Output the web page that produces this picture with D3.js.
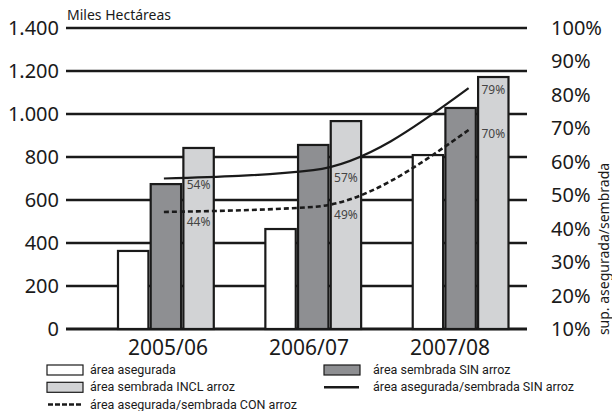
<!DOCTYPE html>
<html>
<head>
<meta charset="utf-8">
<script src="https://cdn.jsdelivr.net/npm/d3@7"></script>
<style>
  body { margin: 0; background: #fff; }
  svg { display: block; font-family: "Noto Sans", sans-serif; }
</style>
</head>
<body>
<div id="chart"></div>
<script>
var width = 612,
    height = 411;

// data
var years = ["2005/06", "2006/07", "2007/08"];
var series = ["asegurada", "sin", "incl"];
var asegurada = [363, 465, 809];
var sembradaSin = [674, 856, 1028];
var sembradaIncl = [842, 967, 1172];
var ratioSin = [55, 57.5, 82];
var ratioCon = [45, 46.5, 69.5];
var ratioSinLabels = ["54%", "57%", "79%"];
var ratioConLabels = ["44%", "49%", "70%"];
var leftTicks = [0, 200, 400, 600, 800, 1000, 1200, 1400];
var rightTicks = [10, 20, 30, 40, 50, 60, 70, 80, 90, 100];

var fills = { asegurada: "#ffffff", sin: "#8e8f92", incl: "#d2d3d5" };

var svg = d3.select("#chart")
    .append("svg")
    .attr("width", width)
    .attr("height", height);

var y = d3.scaleLinear().domain([0, 1400]).range([329, 28]);
var yPct = d3.scaleLinear().domain([10, 100]).range([329, 28]);

var x = d3.scaleBand()
    .domain(years)
    .range([118, 508.5])
    .paddingInner(0.35)
    .paddingOuter(0);

var xSub = d3.scaleBand()
    .domain(series)
    .range([0, x.bandwidth()])
    .paddingInner(0.07);

var xLabel = d3.scalePoint().domain(years).range([168, 450]);

// gridlines
svg.append("g")
    .selectAll("line")
    .data(leftTicks).enter()
    .append("line")
    .attr("x1", 66)
    .attr("x2", 527)
    .attr("y1", function(d) { return y(d); })
    .attr("y2", function(d) { return y(d); })
    .attr("stroke", "#1a1a1a")
    .attr("stroke-width", function(d) { return d == 0 ? 3 : 2.5; });

// left tick labels
svg.append("g")
    .selectAll("text")
    .data(leftTicks).enter()
    .append("text")
    .attr("x", 59)
    .attr("y", function(d) { return y(d) + 7; })
    .attr("text-anchor", "end")
    .style("font-size", "20px")
    .attr("fill", "#1a1a1a")
    .text(function(d) { return d3.format(",")(d).replace(",", "."); });

// right tick labels
svg.append("g")
    .selectAll("text")
    .data(rightTicks).enter()
    .append("text")
    .attr("x", 551)
    .attr("y", function(d) { return yPct(d) + 7; })
    .style("font-size", "20px")
    .attr("fill", "#1a1a1a")
    .text(function(d) { return d + "%"; });

svg.append("text")
    .attr("transform", "translate(609,249) rotate(-90)")
    .attr("text-anchor", "middle")
    .style("font-size", "14px")
    .attr("fill", "#1a1a1a")
    .text("sup. asegurada/sembrada");

svg.append("text")
    .attr("x", 67)
    .attr("y", 20)
    .style("font-size", "14px")
    .attr("fill", "#1a1a1a")
    .text("Miles Hectáreas");

// bars
var rows = years.map(function(yr, i) {
    return { year: yr, asegurada: asegurada[i], sin: sembradaSin[i], incl: sembradaIncl[i] };
});

var groups = svg.append("g")
    .selectAll("g")
    .data(rows).enter()
    .append("g")
    .attr("transform", function(d) { return "translate(" + x(d.year) + ",0)"; });

groups.selectAll("rect")
    .data(function(d) { return series.map(function(s) { return { key: s, value: d[s] }; }); })
    .enter()
    .append("rect")
    .attr("x", function(d) { return xSub(d.key); })
    .attr("width", xSub.bandwidth())
    .attr("y", function(d) { return y(d.value); })
    .attr("height", function(d) { return y(0) - y(d.value); })
    .attr("fill", function(d) { return fills[d.key]; })
    .attr("stroke", "#1a1a1a")
    .attr("stroke-width", 2.2);

// ratio lines
function cx(i) { return x(years[i]) + xSub("sin") + xSub.bandwidth() / 2; }

var ratioLine = d3.line()
    .x(function(d, i) { return cx(i) + (i == 2 ? 8 : i == 0 ? -2 : 0); })
    .y(function(d) { return yPct(d); })
    .curve(d3.curveMonotoneX);

svg.append("path")
    .datum(ratioSin)
    .attr("d", ratioLine)
    .attr("fill", "none")
    .attr("stroke", "#1a1a1a")
    .attr("stroke-width", 2.2);

svg.append("path")
    .datum(ratioCon)
    .attr("d", ratioLine)
    .attr("fill", "none")
    .attr("stroke", "#1a1a1a")
    .attr("stroke-width", 2.6)
    .attr("stroke-dasharray", "5,3");

// percentage labels inside light bars
function lx(i) { return x(years[i]) + xSub("incl") + xSub.bandwidth() / 2; }

svg.append("g")
    .selectAll("text")
    .data(ratioSinLabels).enter()
    .append("text")
    .attr("x", function(d, i) { return lx(i); })
    .attr("y", function(d, i) { return yPct(ratioSin[i]) + (i == 2 ? 6 : i == 0 ? 10 : 12); })
    .attr("text-anchor", "middle")
    .style("font-size", "12px")
    .attr("fill", "#444")
    .text(function(d) { return d; });

svg.append("g")
    .selectAll("text")
    .data(ratioConLabels).enter()
    .append("text")
    .attr("x", function(d, i) { return lx(i); })
    .attr("y", function(d, i) { return yPct(ratioCon[i]) + (i == 2 ? 8 : i == 0 ? 14 : 12); })
    .attr("text-anchor", "middle")
    .style("font-size", "12px")
    .attr("fill", "#444")
    .text(function(d) { return d; });

// x labels
svg.append("g")
    .selectAll("text")
    .data(years).enter()
    .append("text")
    .attr("x", function(d) { return xLabel(d); })
    .attr("y", 355)
    .attr("text-anchor", "middle")
    .style("font-size", "21px")
    .attr("fill", "#1a1a1a")
    .text(function(d) { return d; });

// legend
var legendItems = [
    { label: "área asegurada", type: "box", fill: fills.asegurada, col: 0, row: 0 },
    { label: "área sembrada SIN arroz", type: "box", fill: fills.sin, col: 1, row: 0 },
    { label: "área sembrada INCL arroz", type: "box", fill: fills.incl, col: 0, row: 1 },
    { label: "área asegurada/sembrada SIN arroz", type: "line", col: 1, row: 1 },
    { label: "área asegurada/sembrada CON arroz", type: "dash", col: 0, row: 2 }
];

var legend = svg.append("g")
    .selectAll("g")
    .data(legendItems).enter()
    .append("g")
    .attr("transform", function(d) {
        return "translate(" + (d.col == 0 ? 47 : 324) + "," + (370 + d.row * 17.3) + ")";
    });

legend.filter(function(d) { return d.type == "box"; })
    .append("rect")
    .attr("x", 0)
    .attr("y", -5)
    .attr("width", 36)
    .attr("height", 10)
    .attr("fill", function(d) { return d.fill; })
    .attr("stroke", "#1a1a1a")
    .attr("stroke-width", 1.2);

legend.filter(function(d) { return d.type != "box"; })
    .append("line")
    .attr("x1", function(d) { return d.type == "dash" ? 1 : 0; })
    .attr("x2", 35)
    .attr("stroke", "#1a1a1a")
    .attr("stroke-width", 2.5)
    .attr("stroke-dasharray", function(d) { return d.type == "dash" ? "5,2" : null; });

legend.append("text")
    .attr("x", function(d) { return d.col == 0 ? 43 : 49; })
    .attr("y", 4)
    .style("font-family", "Roboto, sans-serif")
    .style("font-size", "12.5px")
    .attr("fill", "#1a1a1a")
    .text(function(d) { return d.label; });
</script>
</body>
</html>
